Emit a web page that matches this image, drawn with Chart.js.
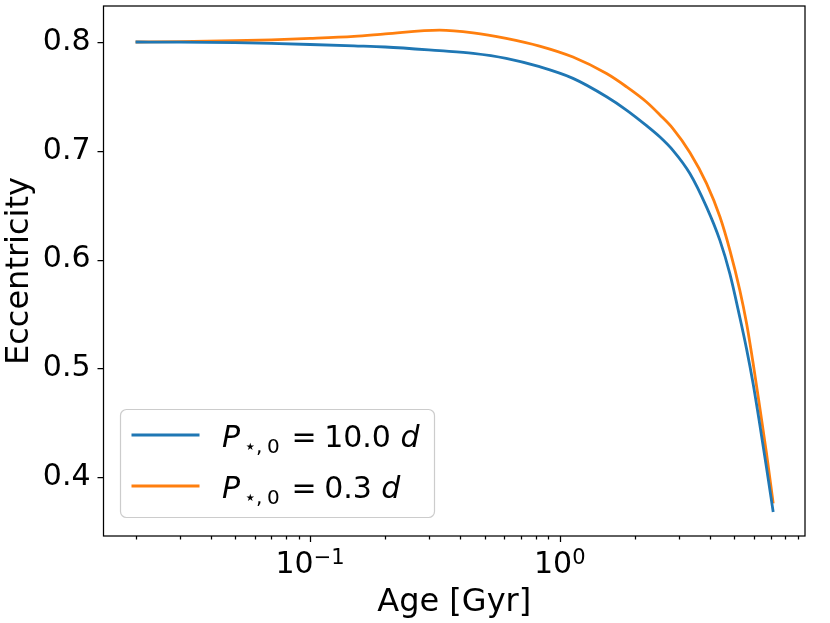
<!DOCTYPE html>
<html>
<head>
<meta charset="utf-8">
<title>Eccentricity vs age</title>
<script src="https://cdn.jsdelivr.net/npm/chart.js@4.4.1/dist/chart.umd.min.js"></script>
<style>
  html, body { margin: 0; padding: 0; background: #fff; }
  #wrap { width: 830px; height: 623px; }
</style>
</head>
<body>
<div id="wrap"><canvas id="eccChart" width="830" height="623"></canvas></div>
<script>
// values
const ages = [0.02, 0.03, 0.05, 0.07, 0.1, 0.15, 0.2, 0.33, 0.45, 0.61, 0.83, 1.13, 1.54,
              1.85, 2.22, 2.52, 2.84, 3.32, 3.87, 4.38, 4.80, 5.26, 5.60, 5.95, 6.32, 6.73, 7.16];

const eccSlow = [0.8000, 0.7999, 0.7994, 0.7987, 0.7977, 0.7964, 0.7954, 0.7920, 0.7896, 0.7850,
                 0.7773, 0.7666, 0.7497, 0.7375, 0.7234, 0.7127, 0.7005, 0.6792, 0.6485, 0.6177,
                 0.5871, 0.5472, 0.5180, 0.4860, 0.4492, 0.4090, 0.3680];

const eccFast = [0.8000, 0.8004, 0.8012, 0.8020, 0.8033, 0.8052, 0.8074, 0.8110, 0.8085, 0.8034,
                 0.7963, 0.7862, 0.7710, 0.7589, 0.7451, 0.7330, 0.7205, 0.6985, 0.6701, 0.6394,
                 0.6088, 0.5721, 0.5415, 0.5047, 0.4648, 0.4220, 0.3760];

const periods = ['10.0', '0.3'];          // initial stellar spin periods [d]
const seriesColors = ['#1f77b4', '#ff7f0e'];

const xTickValues = [0.02, 0.03, 0.04, 0.05, 0.06, 0.07, 0.08, 0.09,
                     0.1, 0.2, 0.3, 0.4, 0.5, 0.6, 0.7, 0.8, 0.9,
                     1, 2, 3, 4, 5, 6, 7, 8, 9];
const xMajorTicks = [0.1, 1];
const xMajorExps = ['\u22121', '0'];      // shown as 10^exp
const yTickValues = [0.4, 0.5, 0.6, 0.7, 0.8];

const FONT = 'DejaVu Sans';

function points(ys) {
    return ages.map(function (a, i) { return { x: a, y: ys[i] }; });
}

// frame, matplotlib style tick marks and the 10^n labels
const framePlugin = {
    id: 'frame',
    afterDraw: function (chart) {
        const ctx = chart.ctx;
        const area = chart.chartArea;
        const xs = chart.scales.x;
        const ys = chart.scales.y;
        ctx.save();
        ctx.strokeStyle = '#000';
        ctx.lineWidth = 1.25;
        ctx.beginPath();
        xs.ticks.forEach(function (t) {
            const px = Math.round(xs.getPixelForValue(t.value)) + 0.5;
            const len = xMajorTicks.indexOf(t.value) >= 0 ? 6 : 3.5;
            ctx.moveTo(px, area.bottom);
            ctx.lineTo(px, area.bottom + len);
        });
        ys.ticks.forEach(function (t) {
            const py = Math.round(ys.getPixelForValue(t.value)) + 0.5;
            ctx.moveTo(area.left, py);
            ctx.lineTo(area.left - 6, py);
        });
        ctx.stroke();
        ctx.strokeRect(area.left, area.top, area.right - area.left, area.bottom - area.top);

        // x tick labels with a raised exponent
        ctx.fillStyle = '#000';
        ctx.textBaseline = 'alphabetic';
        ctx.textAlign = 'left';
        const baseY = area.bottom + 37;
        xMajorTicks.forEach(function (v, i) {
            const px = xs.getPixelForValue(v);
            ctx.font = '30px "' + FONT + '"';
            const wBase = ctx.measureText('10').width;
            ctx.font = '21px "' + FONT + '"';
            const wExp = ctx.measureText(xMajorExps[i]).width;
            const x0 = px - (wBase + wExp) / 2;
            ctx.font = '30px "' + FONT + '"';
            ctx.fillText('10', x0, baseY);
            ctx.font = '21px "' + FONT + '"';
            ctx.fillText(xMajorExps[i], x0 + wBase, baseY - 9.5);
        });
        ctx.restore();
    }
};

// legend with mathtext-like labels
const mathLegend = {
    id: 'mathLegend',
    afterDatasetsDraw: function (chart) {
        const ctx = chart.ctx;
        const box = { x: 120.5, y: 409.5, w: 314, h: 108, r: 6 };
        ctx.save();
        ctx.beginPath();
        ctx.roundRect(box.x, box.y, box.w, box.h, box.r);
        ctx.fillStyle = 'rgba(255,255,255,0.8)';
        ctx.fill();
        ctx.strokeStyle = '#cccccc';
        ctx.lineWidth = 1.2;
        ctx.stroke();

        chart.data.datasets.forEach(function (ds, i) {
            const base = 446.5 + i * 51;
            const ly = base - 11.5;
            ctx.strokeStyle = ds.borderColor;
            ctx.lineWidth = 2.8;
            ctx.beginPath();
            ctx.moveTo(131.5, ly);
            ctx.lineTo(199.5, ly);
            ctx.stroke();

            ctx.fillStyle = '#000';
            ctx.textBaseline = 'alphabetic';
            ctx.textAlign = 'left';
            const x0 = 222;
            ctx.font = 'italic 30px "' + FONT + '"';
            ctx.fillText('P', x0, base);
            ctx.font = '20px "' + FONT + '"';
            ctx.fillText('\u22C6', x0 + 22, base + 6.5);
            ctx.fillText(',', x0 + 34, base + 6.5);
            ctx.fillText('0', x0 + 45, base + 6.5);
            ctx.font = '30px "' + FONT + '"';
            const eqX = x0 + 69.5;
            ctx.fillText('=', eqX, base);
            const numX = eqX + ctx.measureText('=').width + 7.5;
            ctx.fillText(periods[i], numX, base);
            const dX = numX + ctx.measureText(periods[i]).width + 9.5;
            ctx.font = 'italic 30px "' + FONT + '"';
            ctx.fillText('d', dX, base);
        });
        ctx.restore();
    }
};

const datasets = [eccSlow, eccFast].map(function (ys, i) {
    return {
        label: 'P\u22C6,0 = ' + periods[i] + ' d',
        data: points(ys),
        borderColor: seriesColors[i],
        backgroundColor: seriesColors[i],
        borderWidth: 2.8,
        pointRadius: 0,
        fill: false,
        cubicInterpolationMode: 'monotone'
    };
});

function noEdgePadding(scale) {
    scale.paddingTop = 0;
    scale.paddingBottom = 0;
    scale.paddingLeft = 0;
    scale.paddingRight = 0;
}

new Chart(document.getElementById('eccChart'), {
    type: 'line',
    data: { datasets: datasets },
    options: {
        responsive: false,
        animation: false,
        devicePixelRatio: 1,
        layout: { padding: { top: 6, right: 25, left: 0, bottom: 0 } },
        plugins: {
            legend: { display: false },
            tooltip: { enabled: false }
        },
        scales: {
            x: {
                type: 'logarithmic',
                min: 0.01488,
                max: 9.6,
                afterBuildTicks: function (scale) {
                    scale.ticks = xTickValues.map(function (v) { return { value: v }; });
                },
                afterFit: function (scale) { scale.height = 87; noEdgePadding(scale); },
                grid: { display: false },
                border: { display: false },
                ticks: {
                    autoSkip: false,
                    maxRotation: 0,
                    callback: function () { return ''; }
                },
                title: {
                    display: true,
                    text: 'Age [Gyr]',
                    color: '#000',
                    font: { family: FONT, size: 32 },
                    padding: { top: 0, bottom: 1 }
                }
            },
            y: {
                min: 0.346,
                max: 0.8331,
                afterBuildTicks: function (scale) {
                    scale.ticks = yTickValues.map(function (v) { return { value: v }; });
                },
                afterFit: function (scale) { scale.width = 103.5; noEdgePadding(scale); },
                grid: { display: true, drawOnChartArea: false, drawTicks: true, tickLength: 6, color: 'rgba(0,0,0,0)' },
                border: { display: false },
                ticks: {
                    padding: 7,
                    color: '#000',
                    font: { family: FONT, size: 30 },
                    callback: function (v) { return v.toFixed(1); }
                },
                title: {
                    display: true,
                    text: 'Eccentricity',
                    color: '#000',
                    font: { family: FONT, size: 32 },
                    padding: { top: 0, bottom: 0 }
                }
            }
        }
    },
    plugins: [framePlugin, mathLegend]
});
</script>
</body>
</html>
